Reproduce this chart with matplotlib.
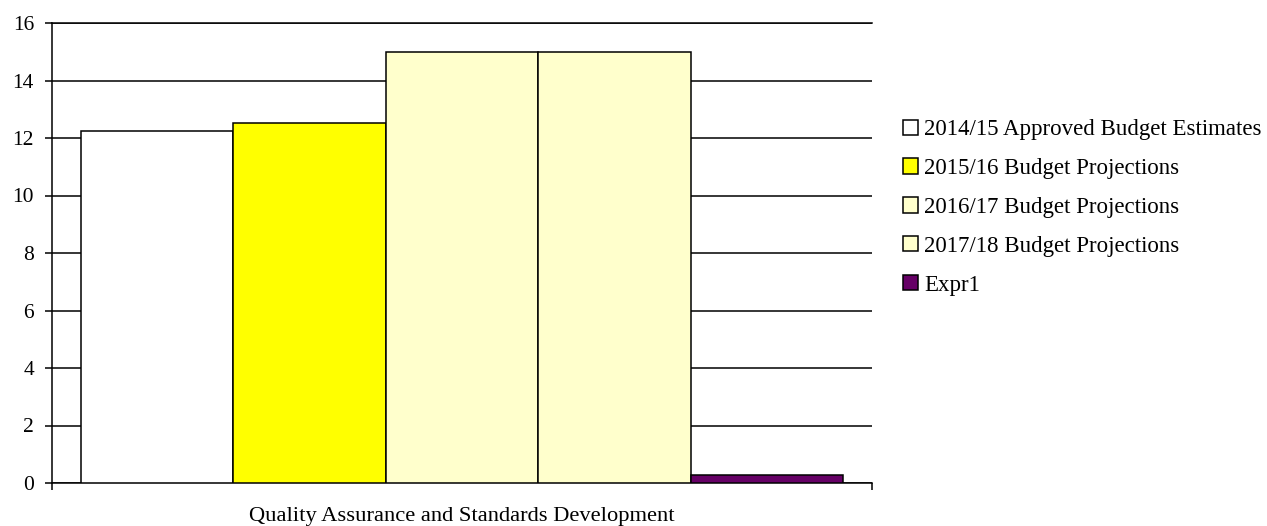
import matplotlib
matplotlib.use("Agg")
import matplotlib.pyplot as plt
from matplotlib.patches import Patch

series = ["2014/15 Approved Budget Estimates",
          "2015/16 Budget Projections",
          "2016/17 Budget Projections",
          "2017/18 Budget Projections",
          "Expr1"]
values = [12.24, 12.53, 15.0, 15.0, 0.27]
colors = ["#FFFFFF", "#FFFF00", "#FFFFCC", "#FFFFCC", "#660066"]
category = "Quality Assurance and Standards Development"
yticks = [0, 2, 4, 6, 8, 10, 12, 14, 16]

plt.rcParams['font.family'] = ["Liberation Serif", "DejaVu Serif"]

fig = plt.figure(figsize=(12.67, 5.26), dpi=100)
ax = fig.add_axes([52 / 1267, 43 / 526, 820 / 1267, 460 / 526])

pos = list(range(len(values)))
ax.bar(pos, values, width=1.0, color=colors, edgecolor="black", linewidth=1.1, zorder=3)

m = 0.19
ax.set_xlim(-0.5 - m, len(values) - 0.5 + m)
ax.set_ylim(0, 16)
ax.set_yticks(yticks)
ax.yaxis.grid(True, color="black", linewidth=1.1)
ax.set_axisbelow(True)

ax.set_xticks([-0.5 - m, len(values) - 0.5 + m])
ax.set_xticklabels(["", ""])
ax.set_xticks([(len(values) - 1) / 2], minor=True)
ax.set_xticklabels([category], minor=True, fontsize=16.2)
ax.tick_params(axis="x", which="minor", length=0, pad=17.5)
ax.tick_params(axis="x", which="major", length=5, width=1.1, direction="out")
ax.tick_params(axis="y", length=5, width=1.1, labelsize=15.5, pad=8)

for s in ["right"]:
    ax.spines[s].set_visible(False)
for s in ["left", "bottom", "top"]:
    ax.spines[s].set_linewidth(1.1)
    ax.spines[s].set_color("black")

handles = [Patch(facecolor=c, edgecolor="black", linewidth=1.1) for c in colors]
fig.legend(handles, series, loc="center left", bbox_to_anchor=(903 / 1267, 1 - 207.5 / 526),
           frameon=False, fontsize=16.5, handlelength=0.65, handleheight=0.65,
           handletextpad=0.28, labelspacing=0.78, borderpad=0, borderaxespad=0)

fig.savefig("out.png", dpi=100)
